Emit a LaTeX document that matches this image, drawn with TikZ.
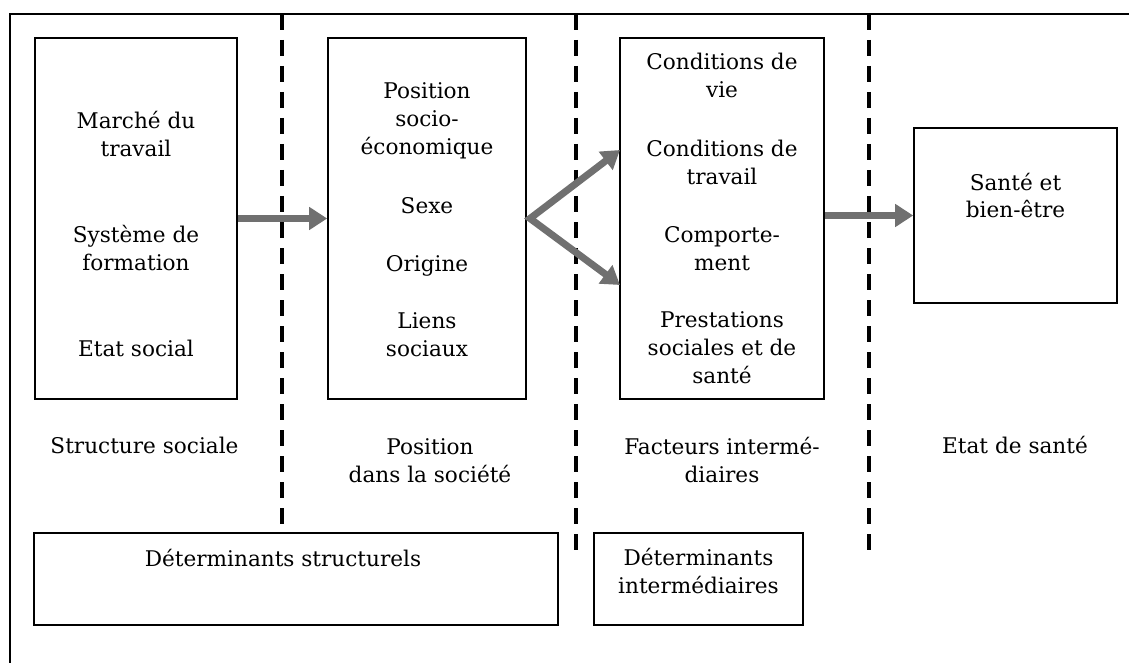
\documentclass[tikz,border=0pt]{standalone}
\usepackage{fontspec}
\setmainfont{DejaVu Serif}
\usetikzlibrary{arrows.meta}
\definecolor{arrowgray}{RGB}{112,112,112}
\begin{document}
\begin{tikzpicture}[x=1pt,y=-1pt,
  box/.style={draw=black,line width=1.6pt,inner sep=0pt},
  txt/.style={font=\fontsize{21.6}{28}\selectfont,align=center,anchor=base,inner sep=0pt},
  divider/.style={line width=4pt,dash pattern=on 16pt off 10pt},
  flow/.style={draw=arrowgray,line width=7pt,line join=miter,>={Triangle[length=18pt,width=22pt]}},
]
\useasboundingbox (0,0) rectangle (1129,663);
% outer frame (only top and left sides visible)
\draw[line width=2pt] (1129,14) -- (10,14) -- (10,663);
% dividers
\draw[divider] (282,14) -- (282,533);
\draw[divider] (576,14) -- (576,556);
\draw[divider] (869,14) -- (869,556);
% boxes
\node[box,minimum width=202pt,minimum height=361pt] (b1) at (136,218.5) {};
\node[box,minimum width=198pt,minimum height=361pt] (b2) at (427,218.5) {};
\node[box,minimum width=204pt,minimum height=361pt] (b3) at (722,218.5) {};
\node[box,minimum width=203pt,minimum height=175pt] (b4) at (1015.5,215.5) {};
\node[box,minimum width=524pt,minimum height=92pt] (d1) at (296,579) {};
\node[box,minimum width=209pt,minimum height=92pt] (d2) at (698.5,579) {};
% texts in boxes (y = baseline of the last line)
\node[txt] (t11) at (136,157) {Marché du\\travail};
\node[txt] (t12) at (136,270) {Système de\\formation};
\node[txt] (t13) at (136,356) {Etat social};
\node[txt] (t21) at (427,155) {Position\\socio-\\économique};
\node[txt] (t22) at (427,213) {Sexe};
\node[txt] (t23) at (427,271) {Origine};
\node[txt] (t24) at (427,356) {Liens\\sociaux};
\node[txt] (t31) at (722,98) {Conditions de\\vie};
\node[txt] (t32) at (722,185) {Conditions de\\travail};
\node[txt] (t33) at (722,270) {Comporte-\\ment};
\node[txt] (t34) at (722,383) {Prestations\\sociales et de\\santé};
\node[txt] (t41) at (1015.5,218) {Santé et\\bien-être};
% column labels
\node[txt] (l1) at (144.5,453) {Structure sociale};
\node[txt] (l2) at (430,482) {Position\\dans la société};
\node[txt] (l3) at (722,482) {Facteurs intermé-\\diaires};
\node[txt] (l4) at (1015,453) {Etat de santé};
% bottom boxes texts
\node[txt] (dt1) at (283,566) {Déterminants structurels};
\node[txt] (dt2) at (698.5,593) {Déterminants\\intermédiaires};
% arrows
\coordinate (split) at (530,218.5);
\coordinate (in1) at (620,150);
\coordinate (in2) at (620,285);
\draw[flow,->] (b1.east) -- (b2.west);
\draw[flow,<->] (in1) -- (split) -- (in2);
\draw[flow,->] (b3.east |- b4.west) -- (b4.west);
\end{tikzpicture}
\end{document}
